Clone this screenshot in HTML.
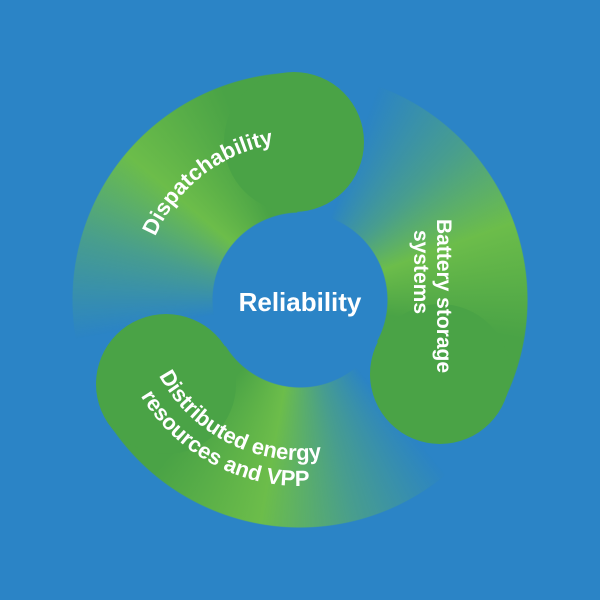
<!DOCTYPE html>
<html><head><meta charset="utf-8"><style>
html,body{margin:0;padding:0;background:#2b84c6;}
.wrap{position:relative;width:600px;height:600px;overflow:hidden;background:#2b84c6;}
.seg{position:absolute;left:0;top:0;width:600px;height:600px;
 -webkit-mask:radial-gradient(circle at 300px 300px,transparent 87px,#000 88px,#000 227px,transparent 228px);
 mask:radial-gradient(circle at 300px 300px,transparent 87px,#000 88px,#000 227px,transparent 228px);}
.head{position:absolute;width:140px;height:140px;border-radius:50%;background:rgb(74,163,70);}
svg{position:absolute;left:0;top:0;display:block}
text{font-family:"Liberation Sans",sans-serif;font-weight:bold;fill:#fff;}
</style></head><body>
<div class="wrap">
<div class="seg" style="background:conic-gradient(from 248deg at 300px 300px,rgba(108,189,74,0) 0deg,rgba(108,189,74,0) 12deg,rgba(108,189,74,0.45) 38deg,rgba(108,189,74,1) 62deg,rgb(74,163,70) 92deg,rgb(74,163,70) 110deg,transparent 110.5deg)"></div>
<div class="seg" style="background:conic-gradient(from 8deg at 300px 300px,rgba(108,189,74,0) 0deg,rgba(108,189,74,0) 12deg,rgba(108,189,74,0.45) 38deg,rgba(108,189,74,1) 62deg,rgb(74,163,70) 92deg,rgb(74,163,70) 110deg,transparent 110.5deg)"></div>
<div class="seg" style="background:conic-gradient(from 128deg at 300px 300px,rgba(108,189,74,0) 0deg,rgba(108,189,74,0) 12deg,rgba(108,189,74,0.45) 38deg,rgba(108,189,74,1) 62deg,rgb(74,163,70) 92deg,rgb(74,163,70) 110deg,transparent 110.5deg)"></div>
<div id="heads"></div>
<svg width="600" height="600" viewBox="0 0 600 600" xmlns="http://www.w3.org/2000/svg">
<defs>
<path id="p1" d="M 300 300 m -158 0 a 158 158 0 0 1 158 -158 a 158 158 0 0 1 158 158" transform="rotate(-38 300 300)"/>
<path id="p3a" d="M 140 300 A 160 160 0 0 0 460 300" transform="rotate(27 300 300)"/>
<path id="p3b" d="M 114 300 A 186 186 0 0 0 486 300" transform="rotate(28 300 300)"/>
</defs>
<text font-size="22"><textPath href="#p1" startOffset="50%" text-anchor="middle">Dispatchability</textPath></text>
<text font-size="22"><textPath href="#p3a" startOffset="50%" text-anchor="middle">Distributed energy</textPath></text>
<text font-size="22"><textPath href="#p3b" startOffset="50%" text-anchor="middle">resources and VPP</textPath></text>
<text font-size="21" transform="translate(437 296) rotate(90)" text-anchor="middle">Battery storage</text>
<text font-size="21" transform="translate(414 272) rotate(90)" text-anchor="middle">systems</text>
<text x="300" y="311" font-size="26" text-anchor="middle">Reliability</text>
</svg>
</div>
<script>
(function(){
var g=document.getElementById('heads');
[-92,28,148].forEach(function(h){
 var q=h*Math.PI/180,x=300+158*Math.cos(q),y=300+158*Math.sin(q);
 var d=document.createElement('div');d.className='head';
 d.style.left=(x-70)+'px';d.style.top=(y-70)+'px';g.appendChild(d);
});
})();
</script>
</body></html>
